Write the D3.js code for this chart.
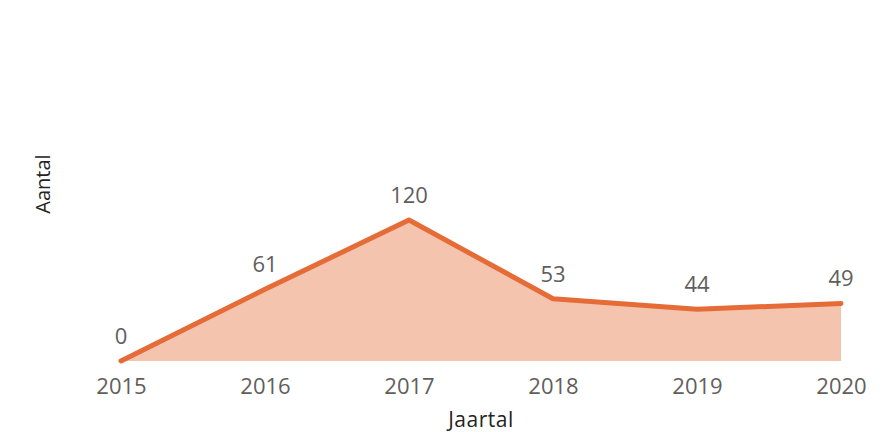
<!DOCTYPE html>
<html>
<head>
<meta charset="utf-8">
<script src="https://cdn.jsdelivr.net/npm/d3@7"></script>
<style>
  body { margin: 0; background: #fff; }
  text { font-family: "Open Sans", "Noto Sans", sans-serif; }
</style>
</head>
<body>
<div id="chart"></div>
<script>
// data
const years = ["2015", "2016", "2017", "2018", "2019", "2020"];
const counts = [0, 61, 120, 53, 44, 49];

const width = 895, height = 432;
const margin = {top: 60, right: 54, bottom: 71, left: 121};

const svg = d3.select('#chart')
    .append('svg')
    .attr('width', width)
    .attr('height', height);

const data = years.map((y, i) => ({year: y, value: counts[i]}));

// scales
const x = d3.scalePoint()
    .domain(years)
    .range([margin.left, width - margin.right]);
const y = d3.scaleLinear()
    .domain([0, 120])
    .range([height - margin.bottom, 220]);

// area under the line
svg.append('path')
    .datum(data)
    .attr('fill', '#F4C4AE')
    .attr('d', d3.area()
        .x(d => x(d.year))
        .y0(y(0))
        .y1(d => y(d.value)));

// the line itself
svg.append('path')
    .datum(data)
    .attr('fill', 'none')
    .attr('stroke', '#E66C37')
    .attr('stroke-width', 5)
    .attr('stroke-linecap', 'round')
    .attr('stroke-linejoin', 'round')
    .attr('d', d3.line()
        .x(d => x(d.year))
        .y(d => y(d.value)));

// value labels
svg.append('g')
    .selectAll('text')
    .data(data)
    .enter()
    .append('text')
        .attr('x', d => x(d.year))
        .attr('y', d => y(d.value) - 17)
        .attr('text-anchor', 'middle')
        .style('font-size', '22px')
        .attr('fill', '#605E5C')
        .text(d => d.value);

// x axis (labels only)
const xAxis = svg.append('g')
    .attr('transform', `translate(0, ${height - margin.bottom})`)
    .call(d3.axisBottom(x).tickSize(0).tickPadding(10));
xAxis.select('.domain').remove();
xAxis.selectAll('text')
    .attr('dy', null)
    .attr('y', 33)
    .style('font-size', '22px')
    .style('font-family', '"Open Sans", "Noto Sans", sans-serif')
    .attr('fill', '#605E5C');

// axis titles
svg.append('text')
    .attr('x', 481)
    .attr('y', 427)
    .attr('text-anchor', 'middle')
    .style('font-size', '21px')
    .style('letter-spacing', '0.5px')
    .attr('fill', '#252423')
    .text('Jaartal');

svg.append('text')
    .attr('transform', `translate(50, 184) rotate(-90)`)
    .attr('text-anchor', 'middle')
    .style('font-size', '20px')
    .attr('fill', '#252423')
    .text('Aantal');
</script>
</body>
</html>
